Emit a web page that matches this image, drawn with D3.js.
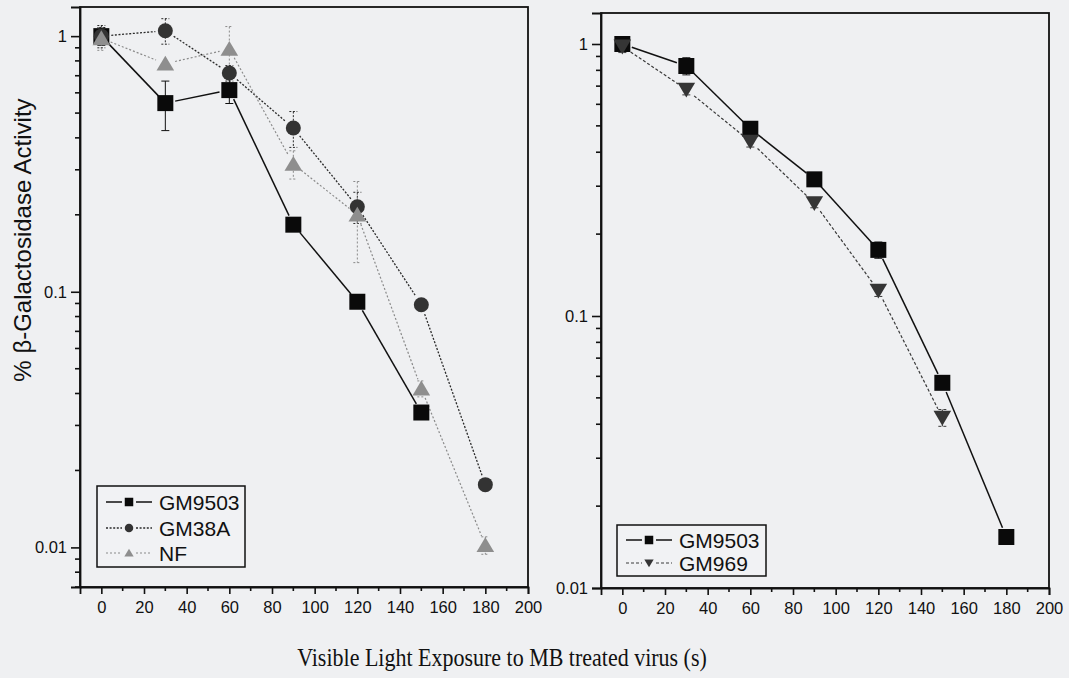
<!DOCTYPE html>
<html>
<head>
<meta charset="utf-8">
<script src="https://cdn.jsdelivr.net/npm/d3@7"></script>
<style>
  html, body { margin: 0; padding: 0; background: #eff0f2; }
  svg { display: block; }
</style>
</head>
<body>
<svg id="chart" width="1069" height="678"></svg>
<script>
// Exposure times (s)
const timesLong = [0, 30, 60, 90, 120, 150, 180];
const timesShort = [0, 30, 60, 90, 120, 150];

// Left panel series (fraction of activity)
const leftGM9503 = [1.0, 0.547, 0.615, 0.183, 0.0914, 0.0337];
const leftGM9503Err = [0.08, 0.12, 0.07, 0, 0, 0];
const leftGM38A = [1.0, 1.05, 0.717, 0.437, 0.215, 0.089, 0.0176];
const leftGM38AErr = [0.1, 0.12, 0.05, 0.07, 0.03, 0, 0];
const leftNF = [0.98, 0.78, 0.89, 0.316, 0.20, 0.0418, 0.0102];
const leftNFErr = [0.1, 0, 0.2, 0.04, 0.07, 0.003, 0.0008];

// Right panel series
const rightGM9503 = [1.0, 0.83, 0.488, 0.318, 0.175, 0.0568, 0.0154];
const rightGM9503Err = [0.05, 0.06, 0.02, 0.01, 0.012, 0, 0];
const rightGM969 = [0.98, 0.68, 0.438, 0.26, 0.124, 0.0423];
const rightGM969Err = [0.05, 0.03, 0.02, 0.01, 0.006, 0.003];

// Axis ticks
const xMajorTicks = [0, 20, 40, 60, 80, 100, 120, 140, 160, 180, 200];
const xMinorTicks = [10, 30, 50, 70, 90, 110, 130, 150, 170, 190];
const yMajorTicks = [0.01, 0.1, 1];
const yTickLabels = ["0.01", "0.1", "1"];

const svg = d3.select("#chart");
const sansFont = "'Liberation Sans', Arial, Helvetica, sans-serif";
const serifFont = "'Liberation Serif', 'Times New Roman', serif";

const styles = {
  GM9503: { shape: "square", fill: "#0a0a0a", stroke: "#111", dash: null, width: 1.5 },
  GM38A:  { shape: "circle", fill: "#333333", stroke: "#2a2a2a", dash: "2,1.6", width: 1.3 },
  NF:     { shape: "triUp", fill: "#8e8e8e", stroke: "#8a8a8a", dash: "2,2", width: 1.2 },
  GM969:  { shape: "triDown", fill: "#353535", stroke: "#3a3a3a", dash: "3,2", width: 1.2 }
};

function markerPath(shape, s) {
  const h = s / 2;
  if (shape === "square") return `M${-h},${-h}H${h}V${h}H${-h}Z`;
  if (shape === "circle") return `M${-h},0A${h},${h} 0 1,0 ${h},0A${h},${h} 0 1,0 ${-h},0Z`;
  if (shape === "triUp") return `M0,${-h * 1.0}L${h * 1.1},${h * 0.85}L${-h * 1.1},${h * 0.85}Z`;
  return `M0,${h * 1.0}L${h * 1.1},${-h * 0.85}L${-h * 1.1},${-h * 0.85}Z`;
}

function minorLogTicks(lo, hi) {
  const out = [];
  for (let e = -3; e <= 1; e++) {
    for (let m = 2; m <= 9; m++) {
      const v = m * Math.pow(10, e);
      if (v >= lo && v <= hi) out.push(v);
    }
  }
  return out;
}

function drawPanel(p) {
  const x = d3.scaleLinear().domain([-10, 200]).range([p.left, p.right]);
  const y = d3.scaleLog().domain(p.yDomain).range([p.bottom, p.top]);
  const g = svg.append("g");

  // frame
  g.append("rect")
    .attr("x", p.left).attr("y", p.top)
    .attr("width", p.right - p.left).attr("height", p.bottom - p.top)
    .attr("fill", "none").attr("stroke", "#111").attr("stroke-width", 1.8);

  // x axis
  const xAxis = g.append("g").attr("transform", `translate(0,${p.bottom})`)
    .call(d3.axisBottom(x).tickValues(xMajorTicks).tickSize(7).tickPadding(7).tickFormat(d3.format("d")));
  xAxis.select(".domain").attr("stroke-width", 1.8).attr("stroke", "#111");
  xAxis.selectAll(".tick line").attr("stroke-width", 1.6).attr("stroke", "#111");
  xAxis.selectAll("text").attr("font-family", sansFont).attr("font-size", 16.5).attr("fill", "#111");
  g.append("g").selectAll("line").data(xMinorTicks).join("line")
    .attr("x1", d => x(d)).attr("x2", d => x(d))
    .attr("y1", p.bottom).attr("y2", p.bottom + 4)
    .attr("stroke", "#111").attr("stroke-width", 1.6);

  // y axis
  const yAxis = g.append("g").attr("transform", `translate(${p.left},0)`)
    .call(d3.axisLeft(y).tickValues(yMajorTicks.filter(v => v >= p.yDomain[0]))
      .tickSize(9).tickPadding(4)
      .tickFormat(d => yTickLabels[yMajorTicks.indexOf(d)]));
  yAxis.select(".domain").attr("stroke-width", 1.8).attr("stroke", "#111");
  yAxis.selectAll(".tick line").attr("stroke-width", 1.6).attr("stroke", "#111");
  yAxis.selectAll("text").attr("font-family", sansFont).attr("font-size", 16.5).attr("fill", "#111");
  g.append("g").selectAll("line").data(minorLogTicks(p.yDomain[0], p.yDomain[1])).join("line")
    .attr("x1", p.left - 5).attr("x2", p.left)
    .attr("y1", d => y(d)).attr("y2", d => y(d))
    .attr("stroke", "#111").attr("stroke-width", 1.6);

  // connecting lines, with small gaps around the markers
  const gap = 10;
  p.series.forEach(s => {
    const st = styles[s.name];
    const pts = s.values.map((v, i) => [x(s.times[i]), y(v)]);
    for (let i = 0; i < pts.length - 1; i++) {
      const [x0, y0] = pts[i], [x1, y1] = pts[i + 1];
      const len = Math.hypot(x1 - x0, y1 - y0);
      if (len <= 2 * gap) continue;
      const ux = (x1 - x0) / len, uy = (y1 - y0) / len;
      g.append("line")
        .attr("x1", x0 + ux * gap).attr("y1", y0 + uy * gap)
        .attr("x2", x1 - ux * gap).attr("y2", y1 - uy * gap)
        .attr("stroke", st.stroke).attr("stroke-width", st.width)
        .attr("stroke-dasharray", st.dash);
    }
  });

  // error bars
  p.series.forEach(s => {
    const st = styles[s.name];
    s.values.forEach((v, i) => {
      const e = s.err[i];
      if (!e) return;
      const cx = x(s.times[i]);
      const yHi = y(v + e), yLo = y(Math.max(v - e, p.yDomain[0]));
      g.append("line").attr("x1", cx).attr("x2", cx).attr("y1", yHi).attr("y2", yLo)
        .attr("stroke", st.stroke).attr("stroke-width", 1).attr("stroke-dasharray", st.dash);
      [yHi, yLo].forEach(yy => g.append("line")
        .attr("x1", cx - 4).attr("x2", cx + 4).attr("y1", yy).attr("y2", yy)
        .attr("stroke", st.stroke).attr("stroke-width", 1).attr("stroke-dasharray", st.dash));
    });
  });

  // markers
  p.series.forEach(s => {
    const st = styles[s.name];
    const size = st.shape === "circle" ? 15 : 16;
    g.append("g").selectAll("path").data(s.values).join("path")
      .attr("transform", (v, i) => `translate(${x(s.times[i])},${y(v)})`)
      .attr("d", markerPath(st.shape, size))
      .attr("fill", st.fill);
  });

  // legend
  const L = p.legend;
  g.append("rect").attr("x", L.x).attr("y", L.y).attr("width", L.w).attr("height", L.h)
    .attr("fill", "#f1f2f4").attr("stroke", "#111").attr("stroke-width", 1.5);
  p.series.forEach((s, i) => {
    const st = styles[s.name];
    const ry = L.rowY[i];
    const lx0 = L.x + 9, lx1 = L.x + 55, mx = (lx0 + lx1) / 2;
    [[lx0, mx - 7], [mx + 7, lx1]].forEach(([a, b]) => g.append("line")
      .attr("x1", a).attr("x2", b).attr("y1", ry).attr("y2", ry)
      .attr("stroke", st.stroke).attr("stroke-width", st.width).attr("stroke-dasharray", st.dash));
    g.append("path").attr("transform", `translate(${mx},${ry})`)
      .attr("d", markerPath(st.shape, 8.5)).attr("fill", st.fill);
    g.append("text").attr("x", L.x + 62).attr("y", ry).attr("dy", "0.36em")
      .attr("font-family", sansFont).attr("font-size", 21).attr("fill", "#111")
      .text(s.name);
  });
}

drawPanel({
  left: 80, right: 528, top: 7, bottom: 587, yDomain: [0.007, 1.3],
  series: [
    { name: "GM9503", times: timesShort, values: leftGM9503, err: leftGM9503Err },
    { name: "GM38A", times: timesLong, values: leftGM38A, err: leftGM38AErr },
    { name: "NF", times: timesLong, values: leftNF, err: leftNFErr }
  ],
  legend: { x: 97, y: 486, w: 148, h: 81, rowY: [502, 528, 553] }
});

drawPanel({
  left: 601, right: 1049, top: 13, bottom: 588, yDomain: [0.01, 1.3],
  series: [
    { name: "GM9503", times: timesLong, values: rightGM9503, err: rightGM9503Err },
    { name: "GM969", times: timesShort, values: rightGM969, err: rightGM969Err }
  ],
  legend: { x: 617, y: 525, w: 149, h: 51, rowY: [540, 563] }
});

// axis titles
svg.append("text")
  .attr("transform", "translate(31,240) rotate(-90)")
  .attr("text-anchor", "middle")
  .attr("font-family", sansFont).attr("font-size", 24).attr("fill", "#111")
  .text("% β-Galactosidase Activity");

svg.append("text")
  .attr("transform", "translate(502,666) scale(0.88,1)")
  .attr("text-anchor", "middle")
  .attr("font-family", serifFont).attr("font-size", 25).attr("fill", "#111")
  .text("Visible Light Exposure to MB treated virus (s)");
</script>
</body>
</html>
